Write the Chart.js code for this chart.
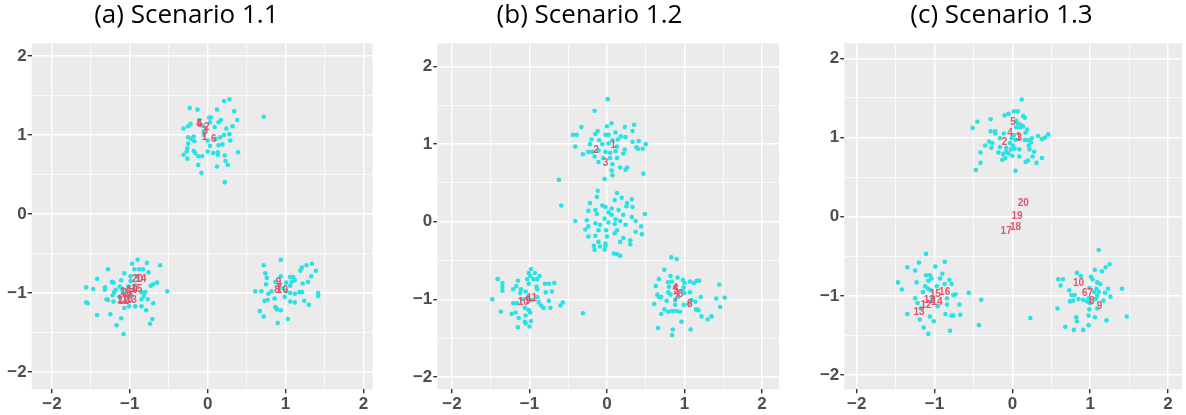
<!DOCTYPE html>
<html>
<head>
<meta charset="utf-8">
<script src="https://cdn.jsdelivr.net/npm/chart.js@4"></script>
<style>
html, body { margin: 0; padding: 0; background: #fff; }
#wrap { position: relative; width: 1186px; height: 415px; }
canvas { position: absolute; top: 0; }
</style>
</head>
<body>
<div id="wrap">
  <canvas id="chartA" width="380" height="415" style="left:0px"></canvas>
  <canvas id="chartB" width="391" height="415" style="left:400px"></canvas>
  <canvas id="chartC" width="369" height="415" style="left:817px"></canvas>
</div>
<script>
// Data --------------------------------------------------------------------

// (a) Scenario 1.1
const aTop = [[0.21,1.43],[0.28,1.45],[-0.23,1.34],[-0.13,1.32],[0.12,1.32],[0.34,1.30],[0.72,1.23],[-0.11,1.19],[0.02,1.22],[0.04,1.22],[0.17,1.19],[0.38,1.19],[0.03,1.16],[0.14,1.16],[-0.22,1.14],[-0.25,1.11],[-0.31,1.08],[0.32,1.11],[0.24,1.08],[-0.07,1.12],[0.09,1.10],[0.21,1.00],[0.28,1.01],[-0.05,1.00],[0.16,0.97],[-0.25,0.97],[-0.18,0.98],[-0.21,0.95],[0.29,0.93],[-0.25,0.89],[-0.17,0.92],[0.14,0.87],[0.19,0.88],[0.03,0.86],[-0.26,0.83],[-0.27,0.79],[-0.18,0.80],[-0.16,0.77],[0.00,0.79],[0.07,0.77],[0.13,0.78],[0.13,0.75],[0.22,0.74],[0.39,0.78],[-0.31,0.75],[-0.12,0.73],[-0.07,0.73],[-0.26,0.70],[0.23,0.67],[0.26,0.62],[-0.12,0.62],[0.12,0.60],[-0.08,0.52],[0.22,0.40],[-0.05,1.05],[0.10,0.95],[0.00,0.93]];
const aLeft = [[-0.90,-0.58],[-0.97,-0.63],[-0.78,-0.62],[-0.61,-0.65],[-1.28,-0.70],[-0.94,-0.70],[-0.88,-0.70],[-0.83,-0.70],[-0.76,-0.74],[-1.07,-0.75],[-1.11,-0.84],[-1.42,-0.82],[-1.23,-0.86],[-1.21,-0.87],[-0.99,-0.85],[-0.70,-0.89],[-0.65,-0.87],[-0.73,-0.91],[-0.93,-0.90],[-1.32,-0.93],[-1.32,-0.96],[-1.56,-0.93],[-1.47,-0.95],[-1.13,-0.92],[-1.10,-0.95],[-1.20,-0.99],[-1.22,-1.03],[-0.85,-0.99],[-0.80,-0.99],[-0.82,-1.04],[-0.52,-0.98],[-1.30,-1.08],[-1.28,-1.09],[-1.21,-1.11],[-0.77,-1.08],[-0.70,-1.13],[-0.85,-1.08],[-1.56,-1.12],[-1.54,-1.13],[-1.07,-1.19],[-1.01,-1.17],[-0.93,-1.17],[-0.85,-1.17],[-0.79,-1.22],[-1.42,-1.28],[-1.25,-1.27],[-1.11,-1.32],[-0.71,-1.33],[-0.74,-1.39],[-1.17,-1.41],[-1.08,-1.52],[-1.02,-0.92],[-0.98,-1.03],[-0.94,-0.97],[-1.13,-1.05],[-1.18,-0.96],[-1.09,-1.00],[-0.91,-0.79],[-0.99,-0.79]];
const aRight = [[0.94,-0.58],[0.72,-0.65],[1.21,-0.68],[1.27,-0.65],[1.34,-0.63],[1.19,-0.72],[1.39,-0.72],[0.74,-0.75],[0.76,-0.81],[1.33,-0.79],[0.94,-0.79],[1.06,-0.80],[1.10,-0.80],[0.87,-0.86],[1.01,-0.87],[1.08,-0.86],[1.12,-0.84],[1.29,-0.86],[1.22,-0.88],[0.75,-0.89],[1.06,-0.91],[0.61,-0.98],[0.69,-0.98],[0.78,-1.01],[0.82,-0.98],[1.01,-0.98],[1.06,-1.00],[1.12,-1.01],[1.18,-0.99],[1.21,-0.99],[1.42,-1.00],[1.42,-1.04],[0.99,-1.05],[0.86,-1.07],[0.73,-1.10],[0.77,-1.09],[1.06,-1.11],[1.12,-1.12],[1.24,-1.10],[0.87,-1.18],[0.89,-1.21],[0.94,-1.22],[1.30,-1.15],[0.67,-1.23],[0.72,-1.30],[1.03,-1.33],[0.90,-1.38],[0.97,-0.94]];
const aLabels = [[1,-0.04,0.97],[2,-0.01,1.10],[3,-0.03,1.05],[4,-0.11,1.14],[5,-0.10,1.14],[6,0.08,0.95],[7,0.92,-0.94],[8,0.89,-0.97],[9,0.91,-0.87],[10,0.96,-0.97],[11,-1.10,-1.09],[12,-1.08,-1.10],[13,-0.98,-1.09],[14,-0.86,-0.83],[15,-0.91,-0.95],[16,-1.05,-0.99],[17,-1.02,-1.01],[18,-1.03,-1.08],[19,-0.97,-0.96],[20,-0.90,-0.83]];

// (b) Scenario 1.2
const bTop = [[0.01,1.58],[-0.16,1.43],[-0.33,1.22],[0.00,1.23],[0.06,1.27],[0.23,1.22],[0.35,1.25],[0.33,1.17],[-0.12,1.17],[-0.44,1.12],[-0.39,1.12],[-0.15,1.13],[-0.02,1.12],[0.02,1.12],[0.11,1.15],[0.18,1.10],[0.24,1.09],[-0.20,1.06],[-0.10,1.05],[0.07,1.05],[0.14,1.06],[0.33,1.03],[0.41,1.04],[0.50,1.00],[-0.22,1.00],[-0.06,1.00],[0.02,1.01],[0.13,0.97],[-0.41,0.97],[-0.31,0.87],[-0.24,0.90],[-0.19,0.90],[-0.11,0.92],[-0.02,0.90],[0.04,0.89],[0.11,0.91],[0.23,0.93],[0.38,0.96],[0.46,0.94],[0.40,0.94],[0.21,0.88],[-0.16,0.84],[-0.05,0.82],[0.04,0.82],[0.13,0.82],[-0.11,0.77],[0.07,0.74],[0.17,0.70],[0.26,0.70],[0.24,0.67],[0.06,0.66],[0.07,0.60],[0.47,0.62],[-0.03,0.55],[-0.62,0.54],[-0.59,0.21],[-0.31,-1.18]];
const bMid = [[-0.12,0.40],[0.13,0.37],[0.19,0.31],[-0.13,0.32],[0.32,0.29],[0.10,0.28],[0.26,0.24],[-0.22,0.24],[-0.06,0.21],[-0.02,0.19],[0.25,0.20],[0.33,0.19],[0.15,0.15],[-0.24,0.14],[0.49,0.10],[-0.13,0.10],[0.06,0.09],[0.21,0.09],[0.32,0.06],[-0.41,0.01],[-0.26,0.02],[-0.03,0.04],[0.11,0.03],[0.17,0.01],[0.37,0.01],[-0.24,-0.06],[-0.15,-0.02],[-0.09,-0.04],[0.02,-0.01],[0.10,-0.03],[0.24,-0.04],[0.44,-0.06],[-0.28,-0.10],[-0.11,-0.11],[-0.01,-0.11],[0.13,-0.11],[0.37,-0.13],[0.45,-0.16],[-0.24,-0.19],[-0.15,-0.18],[0.00,-0.19],[0.10,-0.15],[0.21,-0.21],[0.30,-0.24],[-0.11,-0.26],[-0.02,-0.28],[0.17,-0.26],[-0.17,-0.31],[-0.09,-0.32],[-0.02,-0.31],[-0.16,-0.36],[-0.03,-0.36],[0.09,-0.41],[0.13,-0.42],[0.17,-0.44],[0.30,-0.29],[0.06,0.17],[0.02,0.12],[-0.15,0.15]];
const bLeft = [[-0.98,-0.61],[-0.93,-0.66],[-1.01,-0.66],[-0.87,-0.70],[-0.99,-0.70],[-1.41,-0.74],[-1.35,-0.79],[-1.35,-0.84],[-1.35,-0.89],[-1.15,-0.76],[-1.03,-0.74],[-0.95,-0.74],[-0.90,-0.74],[-0.80,-0.80],[-0.75,-0.80],[-0.68,-0.79],[-1.17,-0.83],[-1.01,-0.80],[-0.91,-0.84],[-1.21,-0.87],[-1.11,-0.87],[-1.05,-0.90],[-0.90,-0.87],[-0.79,-0.91],[-0.71,-0.90],[-1.48,-1.00],[-1.02,-0.97],[-0.90,-0.97],[-1.21,-1.05],[-1.16,-1.05],[-0.88,-1.04],[-0.85,-1.08],[-0.82,-1.11],[-0.75,-1.02],[-0.60,-1.08],[-0.57,-1.04],[-0.73,-1.11],[-1.37,-1.16],[-1.23,-1.19],[-1.18,-1.17],[-1.01,-1.14],[-1.06,-1.11],[-0.99,-1.17],[-1.05,-1.21],[-1.14,-1.24],[-0.98,-1.28],[-1.06,-1.29],[-1.05,-1.31],[-1.00,-1.35],[-1.15,-1.36],[-1.10,-1.00],[-1.12,-0.92],[-0.97,-1.01]];
const bRight = [[0.83,-0.46],[0.90,-0.48],[0.74,-0.62],[0.82,-0.70],[0.91,-0.72],[0.67,-0.74],[0.79,-0.78],[0.84,-0.77],[0.98,-0.75],[1.00,-0.79],[1.07,-0.77],[1.12,-0.79],[1.16,-0.76],[1.19,-0.76],[1.45,-0.81],[0.63,-0.83],[0.80,-0.84],[0.99,-0.85],[0.79,-0.91],[0.82,-0.94],[0.97,-0.89],[1.00,-0.92],[1.07,-0.91],[0.65,-0.94],[0.67,-0.97],[0.70,-0.97],[1.21,-0.97],[1.41,-0.99],[1.52,-0.98],[0.77,-1.02],[0.88,-1.01],[1.09,-1.01],[1.14,-1.03],[0.61,-1.06],[0.99,-1.07],[1.05,-1.06],[0.88,-1.07],[1.46,-1.10],[1.15,-1.13],[1.18,-1.14],[0.74,-1.13],[0.79,-1.16],[0.84,-1.15],[0.89,-1.15],[0.70,-1.19],[0.94,-1.16],[1.22,-1.22],[1.30,-1.26],[1.35,-1.22],[0.96,-1.29],[0.66,-1.37],[0.85,-1.39],[1.08,-1.39],[0.84,-1.46],[0.88,-0.84],[0.92,-0.97]];
const bLabels = [[1,0.08,0.99],[2,-0.14,0.92],[3,-0.02,0.75],[4,0.88,-0.86],[5,0.89,-0.88],[6,0.95,-0.93],[7,0.89,-0.99],[8,1.07,-1.07],[9,-1.02,-1.03],[10,-1.08,-1.04],[11,-0.97,-0.98]];

// (c) Scenario 1.3
const cTop = [[0.12,1.48],[0.02,1.33],[0.07,1.33],[-0.10,1.28],[-0.05,1.30],[0.14,1.27],[0.16,1.25],[-0.28,1.23],[-0.45,1.20],[-0.51,1.12],[0.05,1.21],[0.07,1.18],[0.11,1.16],[0.10,1.13],[0.14,1.14],[0.05,1.13],[0.19,1.10],[0.17,1.06],[-0.28,1.08],[-0.22,1.08],[-0.22,1.05],[-0.11,1.05],[0.02,1.03],[-0.16,0.99],[-0.01,0.99],[0.04,0.97],[0.16,0.97],[0.20,0.97],[0.25,0.99],[0.33,1.02],[0.38,0.98],[0.42,1.00],[0.46,1.04],[-0.30,0.95],[-0.26,0.93],[-0.35,0.90],[-0.27,0.87],[-0.03,0.93],[0.01,0.90],[0.24,0.94],[0.21,0.90],[-0.16,0.88],[-0.08,0.87],[-0.02,0.85],[0.03,0.86],[0.09,0.85],[0.22,0.85],[-0.08,0.82],[-0.18,0.81],[-0.12,0.79],[-0.05,0.80],[0.28,0.82],[-0.41,0.81],[0.00,0.77],[-0.09,0.74],[0.09,0.76],[0.20,0.71],[0.26,0.76],[0.38,0.74],[-0.13,0.72],[0.17,0.69],[0.31,0.68],[-0.41,0.68],[-0.47,0.59],[0.04,0.58]];
const cLeft = [[-1.11,-0.47],[-1.20,-0.58],[-0.87,-0.57],[-1.35,-0.64],[-0.99,-0.63],[-1.25,-0.68],[-0.90,-0.72],[-1.11,-0.74],[-1.06,-0.74],[-0.93,-0.78],[-1.04,-0.78],[-1.08,-0.81],[-1.47,-0.83],[-1.23,-0.83],[-0.81,-0.80],[-0.87,-0.85],[-0.78,-0.85],[-1.12,-0.88],[-1.08,-0.91],[-1.42,-0.92],[-0.97,-0.88],[-1.15,-0.95],[-1.05,-0.93],[-0.73,-0.98],[-0.56,-0.96],[-1.25,-1.03],[-0.84,-1.03],[-0.76,-0.99],[-0.40,-1.05],[-1.22,-1.09],[-0.96,-1.13],[-0.84,-1.11],[-0.68,-1.11],[-1.35,-1.23],[-1.06,-1.26],[-0.86,-1.23],[-0.78,-1.25],[-0.76,-1.25],[-0.67,-1.24],[-1.19,-1.30],[-1.01,-1.32],[-1.14,-1.40],[-0.80,-1.44],[-0.43,-1.37],[-1.08,-1.48],[-1.18,-1.16],[-1.03,-1.05],[0.23,-1.28]];
const cRight = [[1.11,-0.42],[1.25,-0.60],[1.20,-0.64],[1.06,-0.67],[1.15,-0.69],[0.83,-0.71],[0.88,-0.75],[1.01,-0.76],[1.03,-0.79],[0.59,-0.79],[0.65,-0.79],[1.09,-0.83],[1.13,-0.85],[0.62,-0.87],[0.99,-0.90],[1.08,-0.91],[1.23,-0.91],[1.41,-0.91],[0.73,-0.93],[1.05,-0.95],[1.11,-0.95],[1.19,-0.96],[0.76,-0.99],[0.80,-0.99],[1.09,-1.00],[1.26,-1.01],[0.85,-1.04],[0.91,-1.05],[0.98,-1.03],[1.07,-1.04],[1.17,-1.06],[0.74,-1.07],[0.78,-1.06],[0.96,-1.07],[1.00,-1.09],[0.58,-1.16],[0.99,-1.17],[1.09,-1.16],[0.98,-1.25],[1.06,-1.27],[0.82,-1.27],[1.47,-1.26],[1.21,-1.31],[0.83,-1.32],[0.68,-1.39],[0.79,-1.43],[0.91,-1.43],[0.98,-1.37]];
const cLabels = [[1,0.08,1.00],[2,-0.10,0.94],[3,0.09,0.99],[4,-0.03,1.05],[5,0.01,1.19],[6,0.93,-0.97],[7,1.00,-0.97],[8,1.02,-1.07],[9,1.12,-1.13],[10,0.85,-0.84],[11,-1.07,-1.05],[12,-1.11,-1.12],[13,-1.20,-1.21],[14,-0.97,-1.08],[15,-0.99,-0.98],[16,-0.87,-0.96],[17,-0.08,-0.18],[18,0.04,-0.13],[19,0.06,0.00],[20,0.14,0.17]];

// Styling -------------------------------------------------------------------

const pointColor = '#28E2E5';
const labelColor = '#DF536B';
const tickFont = { family: 'Liberation Sans', weight: 'bold', size: 17 };

function fmt(v) {
  return v < 0 ? '\u2212' + Math.abs(v) : String(v);
}

// grey panel behind the grid
const panelBg = {
  id: 'panelBg',
  beforeDraw(chart) {
    const a = chart.chartArea;
    const ctx = chart.ctx;
    ctx.save();
    ctx.fillStyle = '#EBEBEB';
    ctx.fillRect(a.left, a.top, a.right - a.left, a.bottom - a.top);
    ctx.restore();
  }
};

// red number labels, placed through the chart's own scales
const numberLabels = {
  id: 'numberLabels',
  afterDatasetsDraw(chart, args, opts) {
    const ctx = chart.ctx;
    const xs = chart.scales.x, ys = chart.scales.y;
    ctx.save();
    ctx.font = 'bold 10px "Liberation Sans"';
    ctx.fillStyle = labelColor;
    ctx.textAlign = 'center';
    ctx.textBaseline = 'middle';
    opts.items.forEach(([t, x, y]) => {
      ctx.fillText(String(t), xs.getPixelForValue(x), ys.getPixelForValue(y));
    });
    ctx.restore();
  }
};

function axis(min, max, fitFn) {
  return {
    type: 'linear',
    min: min,
    max: max,
    border: { display: false },
    grid: {
      color: '#FFFFFF',
      lineWidth: c => (Number.isInteger(c.tick.value) ? 1.4 : 0.7),
      drawTicks: true,
      tickLength: 4,
      tickColor: c => (Number.isInteger(c.tick.value) ? '#333333' : 'rgba(0,0,0,0)')
    },
    ticks: {
      stepSize: 0.5,
      includeBounds: false,
      autoSkip: false,
      maxRotation: 0,
      padding: 1,
      color: '#4D4D4D',
      font: tickFont,
      callback: v => (Number.isInteger(v) ? fmt(v) : '')
    },
    afterFit: fitFn
  };
}

function makePanel(id, title, xr, yr, yAxisW, padRight, clusters, labels) {
  const pts = [];
  clusters.forEach(cl => cl.forEach(p => pts.push({ x: p[0], y: p[1] })));
  return new Chart(document.getElementById(id), {
    type: 'scatter',
    data: {
      datasets: [{
        data: pts,
        backgroundColor: pointColor,
        borderWidth: 0,
        pointRadius: 2.3
      }]
    },
    options: {
      responsive: false,
      animation: false,
      layout: { padding: { left: 0, right: padRight, top: 0, bottom: 0 } },
      scales: {
        x: axis(xr[0], xr[1], s => { s.height = 25.7; }),
        y: axis(yr[0], yr[1], s => { s.width = yAxisW; })
      },
      plugins: {
        legend: { display: false },
        tooltip: { enabled: false },
        title: {
          display: true,
          text: title,
          color: '#000000',
          font: { family: 'Open Sans', size: 26, weight: 'normal', lineHeight: 1.2 },
          padding: { top: 0, bottom: 12.1 }
        },
        numberLabels: { items: labels }
      }
    },
    plugins: [panelBg, numberLabels]
  });
}

makePanel('chartA', '(a) Scenario 1.1', [-2.26, 2.12], [-2.22, 2.16], 31.7, 7.3, [aTop, aLeft, aRight], aLabels);
makePanel('chartB', '(b) Scenario 1.2', [-2.19, 2.22], [-2.16, 2.30], 37.3, 12, [bTop, bMid, bLeft, bRight], bLabels);
makePanel('chartC', '(c) Scenario 1.3', [-2.16, 2.18], [-2.18, 2.19], 27.3, 0, [cTop, cLeft, cRight], cLabels);
</script>
</body>
</html>
